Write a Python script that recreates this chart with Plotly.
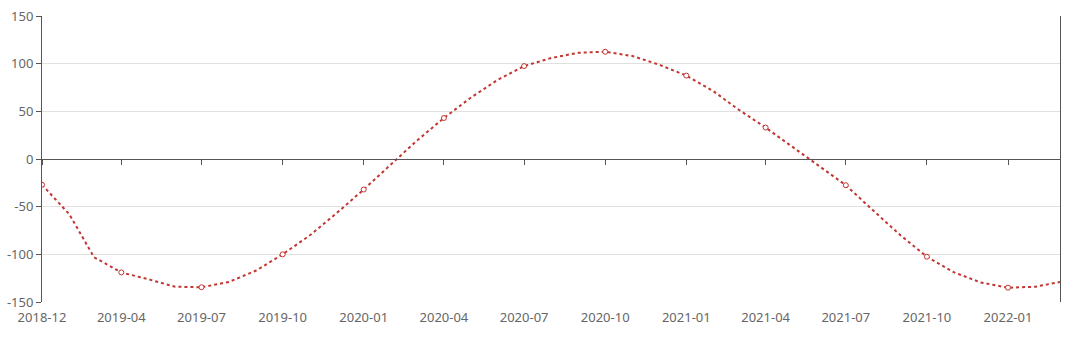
import plotly.graph_objects as go

months = [
    "2019-01-01", "2019-02-01", "2019-03-01", "2019-04-01", "2019-05-01", "2019-06-01",
    "2019-07-01", "2019-08-01", "2019-09-01", "2019-10-01", "2019-11-01", "2019-12-01",
    "2020-01-01", "2020-02-01", "2020-03-01", "2020-04-01", "2020-05-01", "2020-06-01",
    "2020-07-01", "2020-08-01", "2020-09-01", "2020-10-01", "2020-11-01", "2020-12-01",
    "2021-01-01", "2021-02-01", "2021-03-01", "2021-04-01", "2021-05-01", "2021-06-01",
    "2021-07-01", "2021-08-01", "2021-09-01", "2021-10-01", "2021-11-01", "2021-12-01",
    "2022-01-01", "2022-02-01", "2022-03-01",
]
values = [
    -27, -58, -103, -119, -126, -134,
    -134.5, -129, -117, -100, -80, -57,
    -32, -6, 19, 43, 64, 83,
    97.5, 106, 111.5, 112.5, 108, 99,
    87.5, 71, 52, 33, 13, -7,
    -27.5, -54, -80, -102.5, -119, -129.5,
    -135, -134, -129,
]
marker_months = months[::3]
marker_values = values[::3]

tick_dates = [
    "2019-01-01", "2019-04-01", "2019-07-01", "2019-10-01", "2020-01-01", "2020-04-01",
    "2020-07-01", "2020-10-01", "2021-01-01", "2021-04-01", "2021-07-01", "2021-10-01",
    "2022-01-01",
]
tick_labels = [
    "2018-12", "2019-04", "2019-07", "2019-10", "2020-01", "2020-04",
    "2020-07", "2020-10", "2021-01", "2021-04", "2021-07", "2021-10",
    "2022-01",
]
y_ticks = [-150, -100, -50, 0, 50, 100, 150]
y_labels = ["-150", "-100", "-50", "0", "50", "100", "150"]

RED = "#c23531"
AX = "#555555"
LABEL = "#666666"
GRID = "#e0e0e0"
FONT = dict(family="Noto Sans, DejaVu Sans, sans-serif", size=13, color=LABEL)

fig = go.Figure()
fig.add_trace(go.Scatter(
    x=months, y=values, mode="lines",
    line=dict(color=RED, width=2, dash="dot"),
    xaxis="x", yaxis="y", showlegend=False, hoverinfo="skip",
))
fig.add_trace(go.Scatter(
    x=marker_months, y=marker_values, mode="markers",
    marker=dict(symbol="circle", size=5, color="white", line=dict(color=RED, width=1)),
    xaxis="x2", yaxis="y", showlegend=False,
))

fig.update_layout(
    width=1080, height=338,
    margin=dict(l=42, r=20, t=16, b=36),
    paper_bgcolor="white", plot_bgcolor="white",
    font=FONT,
    xaxis=dict(
        type="date", range=[months[0], months[-1]], automargin=False,
        tickmode="array", tickvals=tick_dates, ticktext=tick_labels,
        ticks="", showline=False, showgrid=False, zeroline=False,
        ticklabelstandoff=6, tickfont=FONT,
    ),
    xaxis2=dict(
        type="date", overlaying="x", matches="x", anchor="free", position=0.5,
        range=[months[0], months[-1]], automargin=False,
        tickmode="array", tickvals=tick_dates,
        showticklabels=False, ticks="outside", ticklen=5, tickcolor=AX, tickwidth=1,
        showline=True, linecolor=AX, linewidth=1, showgrid=False, zeroline=False,
    ),
    yaxis=dict(
        range=[-150, 150], tickmode="array", tickvals=y_ticks, ticktext=y_labels,
        automargin=False,
        showgrid=True, gridcolor=GRID, gridwidth=1,
        showline=True, linecolor=AX, linewidth=1, mirror=True,
        ticks="outside", ticklen=5, tickcolor=AX, tickwidth=1,
        zeroline=False, tickfont=FONT,
    ),
)

fig.write_html("out.html")
